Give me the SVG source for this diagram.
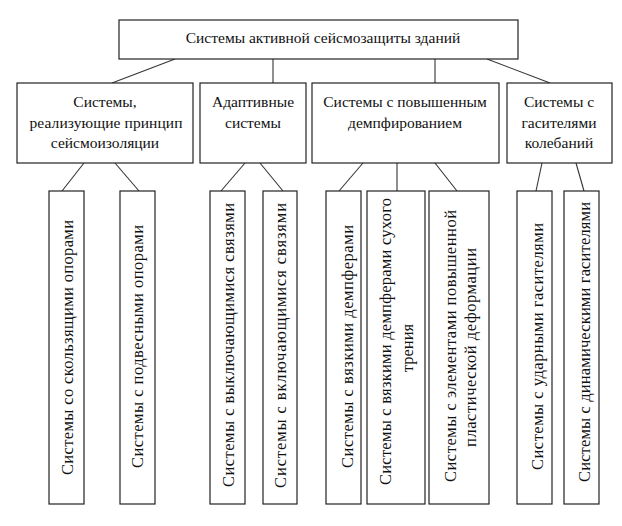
<svg xmlns="http://www.w3.org/2000/svg" width="622" height="526" viewBox="0 0 622 526">
<style>
.b{fill:#fff;stroke:#222;stroke-width:1.2}
.c line{stroke:#333;stroke-width:1.1}
text{font-family:'Liberation Serif','DejaVu Serif',serif;font-size:15.5px;fill:#111;text-anchor:middle}
.v{font-size:16.5px}
</style>
<rect width="622" height="526" fill="#fff"/>
<g class="c" id="connectors">
<line x1="175" y1="59" x2="112" y2="83"/>
<line x1="273" y1="59" x2="273" y2="83"/>
<line x1="435" y1="59" x2="435" y2="83"/>
<line x1="487" y1="59" x2="550" y2="83"/>
<line x1="84" y1="163" x2="62" y2="191"/>
<line x1="115" y1="163" x2="139" y2="191"/>
<line x1="245" y1="163" x2="221" y2="191"/>
<line x1="260" y1="163" x2="283" y2="191"/>
<line x1="363" y1="163" x2="339" y2="191"/>
<line x1="397" y1="163" x2="397" y2="191"/>
<line x1="435" y1="163" x2="457" y2="191"/>
<line x1="542" y1="163" x2="536" y2="191"/>
<line x1="576" y1="163" x2="584" y2="191"/>
</g>
<g id="root"><rect class="b" x="119" y="20" width="399" height="39"/><text x="323" y="43">Системы активной сейсмозащиты зданий</text></g>
<g id="n1"><rect class="b" x="17" y="83" width="176" height="80"/><text x="105" y="107">Системы,</text><text x="106" y="128" textLength="153" lengthAdjust="spacing">реализующие принцип</text><text x="105" y="148">сейсмоизоляции</text></g>
<g id="n2"><rect class="b" x="200" y="83" width="106" height="80"/><text x="253" y="107">Адаптивные</text><text x="253" y="128">системы</text></g>
<g id="n3"><rect class="b" x="312" y="83" width="187" height="80"/><text x="405" y="107">Системы с повышенным</text><text x="405" y="128">демпфированием</text></g>
<g id="n4"><rect class="b" x="507" y="83" width="105" height="80"/><text x="559" y="107">Системы с</text><text x="559" y="128">гасителями</text><text x="559" y="148">колебаний</text></g>
<g id="a"><rect class="b" x="49" y="191" width="35" height="313"/><text class="v" transform="translate(73,347.5) rotate(-90)" textLength="255" lengthAdjust="spacing">Системы со скользящими опорами</text></g>
<g id="b"><rect class="b" x="120" y="191" width="35" height="313"/><text class="v" transform="translate(142.5,346.5) rotate(-90)" textLength="243" lengthAdjust="spacing">Системы с подвесными опорами</text></g>
<g id="c"><rect class="b" x="210" y="191" width="35" height="313"/><text class="v" transform="translate(234,345) rotate(-90)" textLength="284" lengthAdjust="spacing">Системы с выключающимися связями</text></g>
<g id="d"><rect class="b" x="263" y="191" width="34" height="313"/><text class="v" transform="translate(285.5,345.5) rotate(-90)" textLength="285" lengthAdjust="spacing">Системы с включающимися связями</text></g>
<g id="e"><rect class="b" x="326" y="191" width="35" height="313"/><text class="v" transform="translate(352.5,346.5) rotate(-90)" textLength="243" lengthAdjust="spacing">Системы с вязкими демпферами</text></g>
<g id="f"><rect class="b" x="367" y="191" width="58" height="313"/><text class="v" transform="translate(390.5,341.5) rotate(-90)" textLength="287" lengthAdjust="spacing">Системы с вязкими демпферами сухого</text><text class="v" transform="translate(412.5,348) rotate(-90)">трения</text></g>
<g id="g"><rect class="b" x="429" y="191" width="60" height="313"/><text class="v" transform="translate(455.5,346) rotate(-90)" textLength="272" lengthAdjust="spacing">Системы с элементами повышенной</text><text class="v" transform="translate(475.5,347.5) rotate(-90)" textLength="199" lengthAdjust="spacing">пластической деформации</text></g>
<g id="h"><rect class="b" x="517" y="191" width="35" height="313"/><text class="v" transform="translate(542.5,346.5) rotate(-90)" textLength="247" lengthAdjust="spacing">Системы с ударными гасителями</text></g>
<g id="i"><rect class="b" x="564" y="191" width="35" height="313"/><text class="v" transform="translate(589.5,342) rotate(-90)" textLength="280" lengthAdjust="spacing">Системы с динамическими гасителями</text></g>
</svg>
